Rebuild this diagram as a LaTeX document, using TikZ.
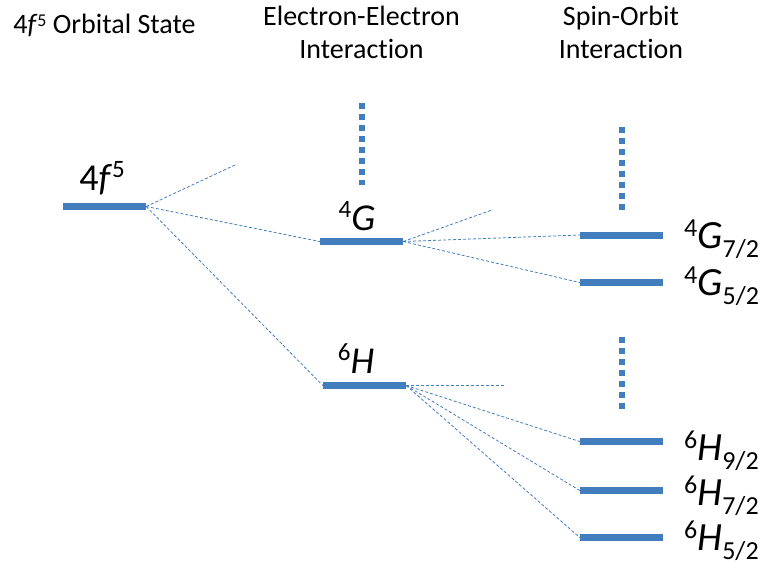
\documentclass[tikz,border=0pt]{standalone}
\usepackage{fontspec}
\setmainfont{Carlito}[Ligatures={NoCommon,NoDiscretionary,NoRare,NoContextual}]
\definecolor{barblue}{RGB}{66,125,190}
\newcommand{\termlab}[3]{\fontsize{40}{40}\selectfont\raisebox{12pt}{\fontsize{26}{26}\selectfont #1}\textit{#2}\raisebox{-9pt}{\fontsize{26}{26}\selectfont #3}}
\begin{document}
\begin{tikzpicture}[x=1pt,y=-1pt,
  level/.style={fill=barblue,draw=none,inner sep=0pt,minimum width=83pt,minimum height=7pt},
  link/.style={draw=barblue,line width=0.8pt,dash pattern=on 3pt off 2pt},
  dotcol/.style={draw=barblue,line width=6pt,dash pattern=on 6pt off 5pt},
  head/.style={anchor=base,inner sep=0pt,font=\fontsize{28}{28}\selectfont},
  lab/.style={anchor=base,inner sep=0pt},
  rlab/.style={anchor=base west,inner sep=0pt}]
\useasboundingbox (0,0) rectangle (762,571);
% headers
\node[head] (h1) at (104.5,33) {4\textit{f}\raisebox{7pt}{\fontsize{18}{18}\selectfont 5} Orbital State};
\node[head] (h2a) at (361.5,25) {Electron-Electron};
\node[head] (h2b) at (361.5,58) {Interaction};
\node[head] (h3a) at (621,25) {Spin-Orbit};
\node[head] (h3b) at (621,58) {Interaction};
% levels
\node[level] (f) at (104.5,206.5) {};
\node[level] (g) at (361.5,241.5) {};
\node[level] (hh) at (364.5,385.5) {};
\node[level] (g72) at (621.5,235) {};
\node[level] (g52) at (621.5,282.5) {};
\node[level] (h92) at (621.5,441.5) {};
\node[level] (h72) at (621.5,490.5) {};
\node[level] (h52) at (621.5,537.5) {};
% labels
\node[lab] (lf) at (102,190) {\fontsize{38}{38}\selectfont 4\textit{f}\raisebox{13pt}{\fontsize{25}{25}\selectfont 5}};
\node[lab] (lg) at (357,230) {\fontsize{38}{38}\selectfont\raisebox{13pt}{\fontsize{25}{25}\selectfont 4}\textit{G}};
\node[lab] (lh) at (356,373) {\fontsize{38}{38}\selectfont\raisebox{13pt}{\fontsize{25}{25}\selectfont 6}\textit{H}};
\node[rlab] (lg72) at (684,248) {\termlab{4}{G}{7/2}};
\node[rlab] (lg52) at (684,295) {\termlab{4}{G}{5/2}};
\node[rlab] (lh92) at (684,460) {\termlab{6}{H}{9/2}};
\node[rlab] (lh72) at (684,505) {\termlab{6}{H}{7/2}};
\node[rlab] (lh52) at (684,550) {\termlab{6}{H}{5/2}};
% free ends
\coordinate (fe1) at (235,165);
\coordinate (ge1) at (492,210);
\coordinate (he1) at (505,385.5);
\coordinate (d1a) at (362,103);
\coordinate (d1b) at (362,185);
\coordinate (d2a) at (622,127);
\coordinate (d2b) at (622,210);
\coordinate (d3a) at (622,337);
\coordinate (d3b) at (622,409);
% connectors
\draw[link] (f.east) -- (fe1);
\draw[link] (f.east) -- (g.west);
\draw[link] (f.east) -- (hh.west);
\draw[link] (g.east) -- (ge1);
\draw[link] (g.east) -- (g72.west);
\draw[link] (g.east) -- (g52.west);
\draw[link] (hh.east) -- (he1);
\draw[link] (hh.east) -- (h92.west);
\draw[link] (hh.east) -- (h72.west);
\draw[link] (hh.east) -- (h52.west);
% dotted columns
\draw[dotcol] (d1a) -- (d1b);
\draw[dotcol] (d2a) -- (d2b);
\draw[dotcol] (d3a) -- (d3b);
\end{tikzpicture}
\end{document}
